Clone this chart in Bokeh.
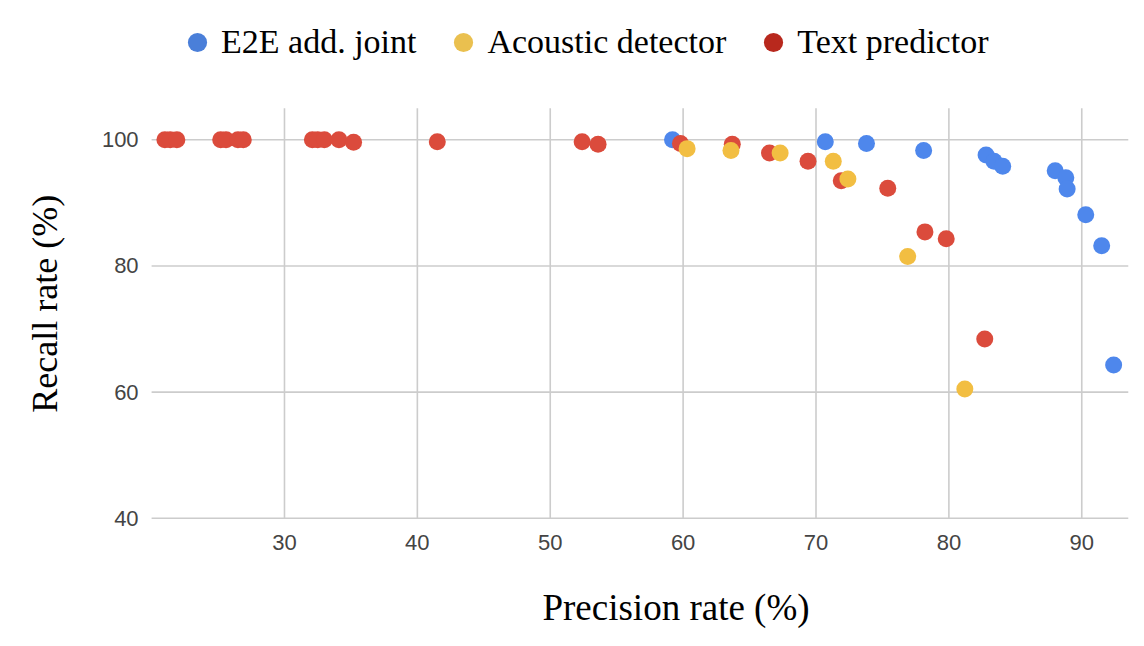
import math
from bokeh.plotting import figure
from bokeh.models import Range1d, FixedTicker, Legend, LegendItem, Label
from bokeh.embed import file_html
from bokeh.resources import INLINE

# ---- data ----
series_names = ["E2E add. joint", "Acoustic detector", "Text predictor"]

e2e_precision = [59.2, 70.7, 73.8, 78.1, 82.8, 83.4, 84.05, 88.0, 88.8, 88.9, 90.3, 91.5, 92.4]
e2e_recall = [100.0, 99.7, 99.4, 98.3, 97.6, 96.6, 95.8, 95.1, 94.0, 92.2, 88.1, 83.2, 64.3]

acoustic_precision = [60.3, 63.6, 67.3, 71.3, 72.4, 76.9, 81.2]
acoustic_recall = [98.6, 98.3, 97.9, 96.6, 93.8, 81.5, 60.5]

text_precision = [21.0, 21.4, 21.9, 25.2, 25.6, 26.5, 26.9, 32.1, 32.5, 33.0, 34.1, 35.2,
                  41.5, 52.4, 53.6, 59.8, 63.7, 66.5, 69.4, 71.9, 75.4, 78.2, 79.8, 82.7]
text_recall = [100.0, 100.0, 100.0, 100.0, 100.0, 100.0, 100.0, 100.0, 100.0, 100.0, 100.0, 99.6,
               99.7, 99.7, 99.3, 99.4, 99.3, 97.9, 96.6, 93.5, 92.3, 85.4, 84.3, 68.4]

x_ticks = [30, 40, 50, 60, 70, 80, 90]
y_ticks = [40, 60, 80, 100]
x_axis_min, x_axis_max = 20, 93.5
y_axis_min, y_axis_max = 40, 105

x_title = "Precision rate (%)"
y_title = "Recall rate (%)"

# ---- styles ----
point_colors = {"E2E add. joint": "#4e87ec", "Acoustic detector": "#f2be42", "Text predictor": "#db4b3c"}
legend_colors = {"E2E add. joint": "#4a7fd9", "Acoustic detector": "#eac04f", "Text predictor": "#b8281d"}
grid_color = "#cccccc"

W, H = 1136, 640
# The frame covers the whole figure so legend and titles are never clipped;
# the visible chart area (20..93.5 x 40..105) sits inside it.
px_per_x = 13.288
px_per_y = 6.307
x0 = x_axis_min - 151.1 / px_per_x
y1 = 100 + 139.3 / px_per_y

p = figure(width=W, height=H, output_backend="svg", toolbar_location=None,
           x_range=Range1d(x0, x0 + W / px_per_x), y_range=Range1d(y1 - H / px_per_y, y1),
           min_border=0, min_border_left=0, min_border_right=0, min_border_top=0, min_border_bottom=0)
p.outline_line_color = None
p.background_fill_color = "white"
p.border_fill_color = "white"
p.grid.visible = False

for ax in (p.xaxis[0], p.yaxis[0]):
    ax.axis_line_color = None
    ax.major_tick_line_color = None
    ax.minor_tick_line_color = None
    ax.major_tick_out = 0
    ax.major_tick_in = 0
    ax.major_label_text_font = "Liberation Sans"
    ax.major_label_text_font_size = "22px"
    ax.major_label_text_color = "#444444"

p.xaxis[0].fixed_location = y_axis_min
p.yaxis[0].fixed_location = x_axis_min
p.xaxis[0].ticker = FixedTicker(ticks=x_ticks)
p.yaxis[0].ticker = FixedTicker(ticks=y_ticks)
p.xaxis[0].major_label_standoff = 17
p.yaxis[0].major_label_standoff = 13

# grid lines limited to the chart area
p.segment(x0=x_ticks, y0=[y_axis_min] * len(x_ticks), x1=x_ticks, y1=[y_axis_max] * len(x_ticks),
          line_color=grid_color, line_width=1.6)
p.segment(x0=[x_axis_min] * len(y_ticks), y0=y_ticks, x1=[x_axis_max] * len(y_ticks), y1=y_ticks,
          line_color=grid_color, line_width=1.6)

# legend-coloured renderers, drawn first and fully covered by the points
legend_renderers = {}
for name, xs, ys in [("E2E add. joint", e2e_precision, e2e_recall),
                     ("Acoustic detector", acoustic_precision, acoustic_recall),
                     ("Text predictor", text_precision, text_recall)]:
    legend_renderers[name] = p.scatter(xs, ys, size=12, fill_color=legend_colors[name], line_color=None)

# points: blue first, then red, then yellow on top
p.scatter(e2e_precision, e2e_recall, size=17, fill_color=point_colors["E2E add. joint"], line_color=None)
p.scatter(text_precision, text_recall, size=17, fill_color=point_colors["Text predictor"], line_color=None)
p.scatter(acoustic_precision, acoustic_recall, size=17, fill_color=point_colors["Acoustic detector"], line_color=None)

items = [LegendItem(label=name, renderers=[legend_renderers[name]]) for name in series_names]
legend = Legend(items=items, orientation="horizontal", location=(173, 574),
                glyph_width=48, glyph_height=48, label_standoff=0, spacing=23,
                padding=0, margin=0, border_line_color=None, background_fill_alpha=0,
                label_text_font="Liberation Serif", label_text_font_size="34px",
                label_text_color="black")
p.add_layout(legend, "center")

p.add_layout(Label(x=x0 + 675.5 / px_per_x, y=y1 - 607 / px_per_y, text=x_title,
                   text_align="center", text_baseline="alphabetic",
                   text_font="Liberation Serif", text_font_size="37px", text_color="black"))
p.add_layout(Label(x=x0 + 44 / px_per_x, y=y1 - 303.3 / px_per_y, text=y_title, angle=math.pi / 2,
                   text_align="center", text_baseline="alphabetic",
                   text_font="Liberation Serif", text_font_size="36px", text_color="black"))

open("out.html", "w").write(file_html(p, INLINE))
